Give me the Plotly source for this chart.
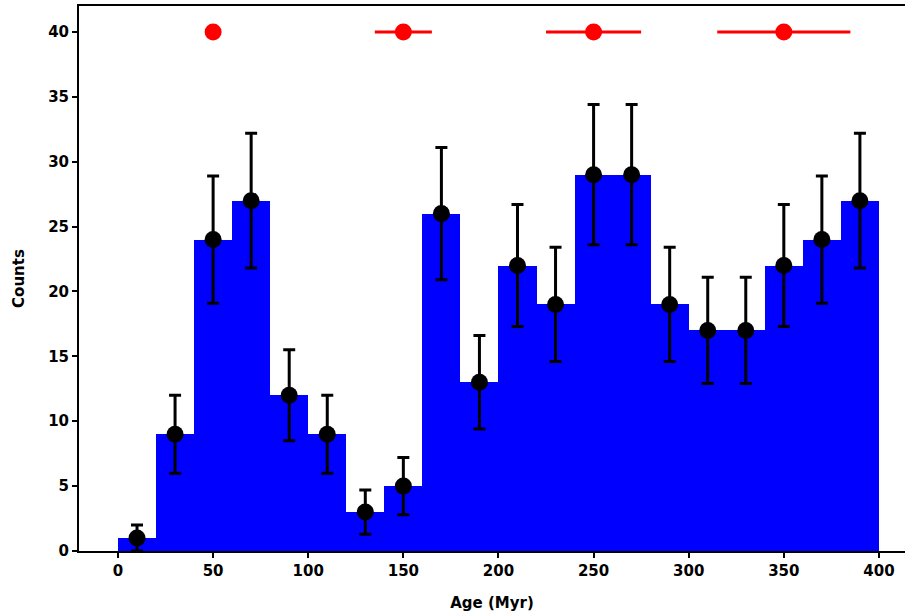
import plotly.graph_objects as go

# Histogram of ages: bin centres (Myr), counts and counting uncertainties
bin_centers = [10, 30, 50, 70, 90, 110, 130, 150, 170, 190,
               210, 230, 250, 270, 290, 310, 330, 350, 370, 390]
counts = [1, 9, 24, 27, 12, 9, 3, 5, 26, 13,
          22, 19, 29, 29, 19, 17, 17, 22, 24, 27]
count_err = [1.0, 3.0, 4.9, 5.2, 3.5, 3.0, 1.7, 2.2, 5.1, 3.6,
             4.7, 4.4, 5.4, 5.4, 4.4, 4.1, 4.1, 4.7, 4.9, 5.2]
bin_width = 20

# Reference epochs drawn along the top with their age spreads
epoch_ages = [50, 150, 250, 350]
epoch_level = [40, 40, 40, 40]
epoch_spread = [4, 15, 25, 35]

x_ticks = [0, 50, 100, 150, 200, 250, 300, 350, 400]
y_ticks = [0, 5, 10, 15, 20, 25, 30, 35, 40]

font_main = "DejaVu Sans"

fig = go.Figure()

fig.add_trace(go.Bar(
    x=bin_centers, y=counts, width=bin_width,
    marker=dict(color="#0000ff", line=dict(width=0)),
    showlegend=False, hoverinfo="x+y",
))

fig.add_trace(go.Scatter(
    x=bin_centers, y=counts, mode="markers",
    marker=dict(color="black", size=17),
    error_y=dict(type="data", array=count_err, visible=True,
                 color="black", thickness=3, width=6),
    showlegend=False,
))

fig.add_trace(go.Scatter(
    x=epoch_ages, y=epoch_level, mode="markers",
    marker=dict(color="#ff0000", size=17),
    error_x=dict(type="data", array=epoch_spread, visible=True,
                 color="#ff0000", thickness=3, width=0),
    showlegend=False,
))

axis_font = dict(family=font_main, size=15, color="black", weight="bold")

fig.update_layout(
    width=905, height=616,
    margin=dict(l=79, r=0, t=6, b=65),
    paper_bgcolor="white", plot_bgcolor="white",
    bargap=0,
    xaxis=dict(
        range=[-20.5, 413.7], tickvals=x_ticks,
        ticktext=[str(v) for v in x_ticks],
        showgrid=False, zeroline=False,
        showline=True, linecolor="black", linewidth=2, mirror=True,
        ticks="outside", ticklen=5, tickwidth=2, tickcolor="black",
        tickfont=axis_font,
        title=dict(text="Age (Myr)", font=dict(family=font_main, size=15,
                                               color="black", weight="bold"),
                   standoff=18),
    ),
    yaxis=dict(
        range=[0, 42], tickvals=y_ticks,
        ticktext=[str(v) for v in y_ticks],
        showgrid=False, zeroline=False,
        showline=True, linecolor="black", linewidth=2, mirror=False,
        ticks="outside", ticklen=5, tickwidth=2, tickcolor="black",
        tickfont=axis_font,
        title=dict(text="Counts", font=dict(family=font_main, size=15,
                                            color="black", weight="bold"),
                   standoff=20),
    ),
)

fig.write_html("out.html")
